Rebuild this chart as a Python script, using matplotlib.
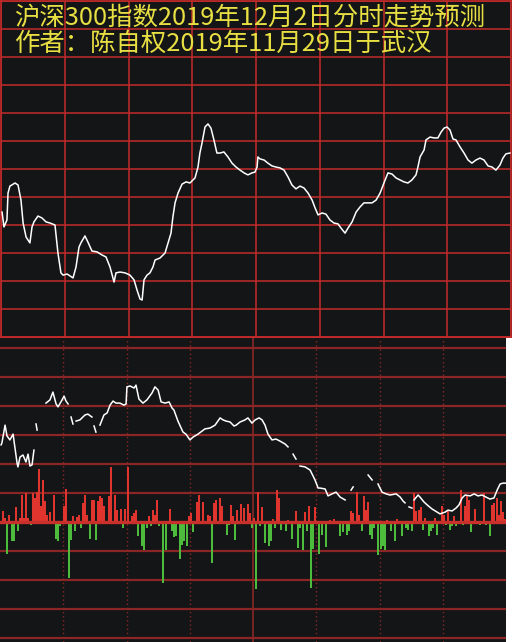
import numpy as np
import matplotlib
matplotlib.use('Agg')
import matplotlib.pyplot as plt
from matplotlib.patches import Rectangle

# ---------------- data ----------------
title_line1 = "沪深300指数2019年12月2日分时走势预测"
title_line2 = "作者：陈自权2019年11月29日于武汉"

# top panel: forecast intraday curve (minute of session, level in grid units)
top_minutes = [0.5, 1.4, 2.8, 3.3, 4.2, 6.6, 8.0, 9.4, 10.4, 11.8, 13.6, 14.6, 15.5, 17.4, 19.3,
               21.2, 23.1, 25.4, 26.8, 28.2, 29.2, 31.1, 33.9, 35.3, 36.7, 37.6, 39.5, 40.9, 42.8,
               45.2, 47.5, 49.4, 51.3, 53.2, 54.1, 56.0, 58.4, 60.7, 62.6, 64.0, 65.4, 66.4, 67.3,
               68.7, 70.1, 71.5, 72.5, 74.8, 77.2, 78.6, 80.0, 80.9, 81.9, 83.3, 85.2, 87.1, 88.9,
               91.3, 92.7, 93.6, 94.6, 96.0, 97.4, 98.8, 100.2, 101.6, 103.1, 104.9, 106.8, 108.7,
               110.6, 112.5, 114.4, 116.2, 118.1, 119.5, 120.5, 120.9, 121.9, 123.8, 125.6, 127.5,
               129.4, 131.3, 133.2, 135.1, 136.9, 138.8, 140.7, 142.6, 144.5, 146.4, 147.8, 149.2,
               151.1, 152.9, 154.8, 156.7, 158.6, 160.0, 161.9, 163.3, 165.2, 167.1, 168.9, 170.8,
               172.7, 174.6, 176.5, 178.4, 180.2, 182.1, 184.0, 185.9, 187.8, 189.6, 191.5, 193.4,
               195.3, 196.2, 197.2, 199.1, 200.0, 201.9, 203.8, 205.6, 207.1, 208.5, 209.9, 211.3,
               212.7, 214.1, 216.0, 217.9, 219.8, 221.6, 223.5, 225.4, 227.3, 229.2, 231.1, 232.9,
               234.8, 236.2, 237.6, 239.5]
top_level = [4.46, 3.93, 4.18, 5.14, 5.39, 5.50, 5.43, 4.89, 4.07, 3.57, 3.36, 3.93, 4.11, 4.32, 4.25,
             4.11, 4.07, 4.00, 3.00, 2.29, 2.21, 2.25, 2.11, 2.50, 3.21, 3.36, 3.61, 3.39, 3.07,
             3.04, 2.93, 2.86, 2.50, 1.96, 2.29, 2.32, 2.29, 2.21, 2.04, 1.68, 1.36, 1.32, 2.04,
             2.21, 2.29, 2.50, 2.75, 2.82, 3.00, 3.36, 3.71, 4.29, 4.79, 5.14, 5.46, 5.54, 5.50,
             5.68, 6.07, 6.57, 6.93, 7.50, 7.61, 7.46, 7.04, 6.57, 6.57, 6.61, 6.43, 6.21,
             6.07, 5.96, 5.86, 5.79, 5.86, 5.89, 6.07, 6.43, 6.36, 6.32, 6.21, 6.11,
             6.07, 6.04, 5.96, 5.71, 5.43, 5.29, 5.39, 5.32, 5.14, 4.89, 4.61, 4.36,
             4.43, 4.39, 4.18, 4.07, 4.04, 3.89, 3.71, 3.89, 4.11, 4.46, 4.64, 4.79,
             4.79, 4.79, 4.89, 5.14, 5.50, 5.86, 5.82, 5.68, 5.61, 5.54, 5.50, 5.61,
             5.79, 6.07, 6.43, 6.68, 7.04, 7.14, 7.11, 7.11, 7.32, 7.46, 7.50, 7.39,
             7.07, 7.04, 6.79, 6.57, 6.32, 6.21, 6.32, 6.39, 6.32, 6.11, 6.07, 5.96,
             6.14, 6.39, 6.54, 6.57]

# bottom panel: white curve (nan = gap)
nan = float('nan')
low_minutes = [0.5, 0.9, 2.4, 3.3, 4.7, 6.2, 7.1, 8.1, 8.5, 9.5, 10.9, 12.3, 13.3, 14.2, 15.2, 16.1, 16.6,
               17.1, 17.6, 19.0,
               21.8, 23.7, 25.1, 26.6, 27.5, 28.9, 30.4, 31.3, 32.3, 33.0,
               33.7, 34.6, 35.3,
               36.1, 37.9, 40.3, 41.7, 43.6, 44.1,
               44.6, 45.5, 46.4,
               47.4, 49.3, 50.8, 52.2, 53.6, 55.0, 56.9, 58.8, 59.8, 60.2, 61.7, 63.6, 64.5, 65.9,
               67.8, 69.7, 72.1, 73.5, 75.0, 76.4, 78.3, 80.2, 81.6, 82.5, 84.4, 86.8, 88.2, 90.1,
               91.6, 93.9, 97.2, 99.6, 102.0, 104.4, 105.8, 107.2, 109.1, 111.0, 112.0, 113.9,
               116.2, 117.6, 119.5, 121.0, 122.9, 124.3, 125.7, 127.1, 129.0, 130.9, 132.8, 135.2,
               136.6, 137.8,
               139.0, 140.4, 141.3,
               142.3, 144.7, 147.1, 149.4, 150.9, 151.8, 154.2, 155.6, 157.5, 159.4, 161.3, 163.7, 165.0,
               166.5, 167.5, 171.0,
               174.6, 176.5, 177.9,
               179.3, 181.2, 183.1, 185.0, 187.9, 189.8, 191.2, 192.1, 193.0,
               194.0, 195.4, 195.9,
               196.4, 198.3, 199.2, 201.1, 202.6, 204.9, 207.3, 208.7, 211.1, 212.5, 214.4, 216.3,
               217.7, 219.2, 220.6, 223.0, 224.9, 226.7, 228.6, 230.5, 232.4, 234.3, 235.8, 237.2,
               238.6, 240.0]
low_level = [2.66, 2.72, 3.34, 2.97, 2.83, 3.03, 2.55, 2.03, 1.90, 2.24, 2.31, 2.07, 2.34, 1.93, 1.97, 2.48, nan,
             3.38, 3.17, nan,
             4.10, 4.21, 4.48, 4.07, 3.97, 4.14, 4.34, 4.17, 4.07, nan,
             3.62, 3.38, nan,
             3.48, 3.52, 3.69, 3.72, 3.62, nan,
             3.31, 3.10, nan,
             3.34, 3.69, 3.76, 4.03, 4.17, 4.10, 4.10, 4.03, 4.07, 4.66, 4.69, 4.62, 4.72, 4.24,
             4.10, 4.21, 4.45, 4.66, 4.55, 4.14, 4.10, 4.14, 3.93, 3.86, 3.48, 3.10, 3.03, 2.83,
             2.93, 3.03, 3.21, 3.24, 3.34, 3.59, 3.52, 3.48, 3.45, 3.31, 3.34, 3.45,
             3.52, 3.59, 3.41, 3.52, 3.59, 3.52, 3.34, 3.03, 2.83, 2.86, 2.79, 2.69,
             2.59, nan,
             2.34, 2.17, nan,
             1.93, 1.90, 1.79, 1.45, 1.17, 1.17, 1.14, 0.90, 0.97, 1.03, 0.86, 0.76, nan,
             1.10, 1.21, nan,
             1.62, 1.45, nan,
             1.31, 1.03, 0.97, 0.93, 0.97, 0.86, 0.72, 0.66, nan,
             0.52, 0.48, nan,
             0.76, 0.93, 0.86, 0.69, 0.59, 0.45, 0.34, 0.28, 0.34, 0.41, 0.38, 0.48,
             0.59, 0.83, 0.93, 0.90, 0.97, 0.90, 0.93, 0.86, 0.79, 0.83, 1.10, 1.31,
             1.34, 1.34]

# bottom panel: per-minute bars (positive red, negative green)
bar_minutes = [1, 2, 3, 4, 5, 6, 7, 8, 9, 10, 11, 12, 13, 14, 15, 16, 17, 18, 19, 20, 21, 22, 23, 25,
               26, 27, 28, 30, 31, 32, 33, 34, 35, 36, 37, 38, 39, 40, 41, 42, 43, 44, 45, 46, 47,
               48, 49, 51, 52, 54, 55, 57, 58, 59, 60,
               61, 62, 63, 64, 65, 67, 68, 69, 70, 71, 72, 73, 74, 75, 77, 78, 80, 81, 82, 83, 85,
               86, 87, 88, 89, 90, 91, 93, 94, 96, 98, 99, 100, 101, 102, 104, 105, 107, 108, 109,
               110, 111, 112, 114, 115, 117, 118, 119, 120,
               121, 122, 123, 124, 125, 127, 128, 129, 130, 131, 132, 133, 135, 136, 138, 140, 141,
               142, 143, 144, 145, 146, 147, 148, 149, 151, 152, 154, 156, 158, 161, 162, 164, 165,
               166, 167, 169, 170, 171, 172, 173, 174, 175, 176, 177, 179, 180, 181,
               182, 183, 185, 187, 188, 190, 192, 193, 195, 196, 197, 198, 199, 200, 201, 203, 204,
               205, 206, 207, 209, 210, 211, 212, 213, 214, 215, 216, 218, 219, 220, 221, 222, 223,
               225, 227, 229, 230, 232, 233, 234, 235, 236, 237, 238, 239]
bar_values = [11, 4, -32, 7, -19, -19, 15, -9, 4, 27, 4, 29, 4, -3, 29, 24, 30, 53, 16, 42, 21, 7, 10, 27,
              -17, -19, -4, 16, 33, -56, -18, 6, -9, 5, 7, -6, 19, 27, 7, -17, 22, 22, -18, 21, 26,
              24, 16, 26, 55, 27, 12, 13, -6, 13, 55,
              -2, 6, 9, 12, -14, -24, -28, -6, 6, -4, 12, 7, 22, -4, -61, -28, 13, -9, -15, -14, -37,
              -23, -19, -24, 6, 9, -10, 20, 27, 20, 7, 6, -41, 19, 22, 24, 16, -13, -3, 17,
              6, -18, 12, 18, 14, 18, 9, -6, 4,
              -67, 30, -4, 15, -21, -24, -19, 3, -6, 32, 24, -8, -9, 2, -17, 11, -26,
              -6, -28, 10, -9, 16, -66, -27, 15, -32, -13, -25, 2, 3, -14, -10, -13, -9,
              11, 9, 30, 7, -9, 26, 12, 20, -13, -17, -6, -33, -27, -24,
              -28, 2, -9, -19, 3, -14, -6, -8, -9, 29, 11, 12, 15, -8, 4, -14, -9,
              -6, 4, -13, 16, 7, -3, 11, -8, -4, 6, -4, 32, -3, 16, 26, 22, -10,
              13, -3, 29, -3, -14, 17, 19, 24, 7, 21, 10, 3]

# ---------------- style ----------------
BG = '#141517'
GRID_TOP = '#c42a2a'
GRID_BOT = '#8a2626'
ZERO = '#c8302c'
RED = '#e0352f'
GREEN = '#4dbb3c'
YELLOW = '#e8e043'
W, H = 512, 642

fig = plt.figure(figsize=(W / 100, H / 100), dpi=100, facecolor=BG)

# ---- top panel ----
ax1 = fig.add_axes([1 / W, 1 - 337 / H, 510 / W, 336 / H])
ax1.set_facecolor(BG)
ax1.set_xlim(0, 240)
ax1.set_ylim(0, 12)
ax1.set_xticks(np.arange(0, 241, 30))
ax1.set_yticks(np.arange(0, 13, 1))
ax1.grid(True, color=GRID_TOP, lw=1.1)
ax1.tick_params(length=0, labelbottom=False, labelleft=False)
for s in ax1.spines.values():
    s.set_color(GRID_TOP)
    s.set_linewidth(1.2)
ax1.spines['bottom'].set_linewidth(1.8)
ax1.plot(top_minutes, top_level, color='white', lw=1.1, zorder=3)

# ---- bottom panel ----
ax2 = fig.add_axes([0, 0, 506 / W, 304 / H])
ax2.set_facecolor(BG)
ax2.set_xlim(0, 240)
ax2.set_ylim(-120, 184)
ax2.set_xticks([])
ax2.set_yticks([])
for s in ax2.spines.values():
    s.set_visible(False)
for yv in np.arange(-116, 184, 29):
    if yv == 0:
        continue
    ax2.axhline(yv, color=GRID_BOT, lw=1.6, zorder=1)
for xv in [30, 60, 90, 150, 180, 210]:
    ax2.axvline(xv, color=GRID_BOT, lw=1.0, ls=(0, (1, 2)), zorder=1)
ax2.axvline(120, color=GRID_BOT, lw=1.2, zorder=1)

bx = np.array(bar_minutes) + 0.5
bv = np.array(bar_values, dtype=float)
cols = [RED if v > 0 else GREEN for v in bv]
ax2.bar(bx, bv, width=0.95, color=cols, linewidth=0, antialiased=False, zorder=2)
ax2.axhline(0, color=ZERO, lw=2.4, zorder=2.5)

ax3 = ax2.twinx()
ax3.set_ylim((522 - 642) / 29, (522 - 338) / 29)
ax3.set_xlim(0, 240)
ax3.set_yticks([])
for s in ax3.spines.values():
    s.set_visible(False)
ax3.plot(low_minutes, low_level, color='white', lw=1.1, zorder=3)

# white strip at right of the lower panel
fig.add_artist(Rectangle((506 / W, 0), 6 / W, 304 / H, transform=fig.transFigure,
                         facecolor='white', edgecolor='none', zorder=5))

fam = ['Noto Sans CJK SC', 'DejaVu Sans']
fig.text(14 / W, 1 - 18 / H, title_line1, color=YELLOW, fontsize=18.3, family=fam,
         ha='left', va='center', zorder=10)
fig.text(14 / W, 1 - 44 / H, title_line2, color=YELLOW, fontsize=18.3, family=fam,
         ha='left', va='center', zorder=10)

fig.savefig('out.png', dpi=100, facecolor=BG)
